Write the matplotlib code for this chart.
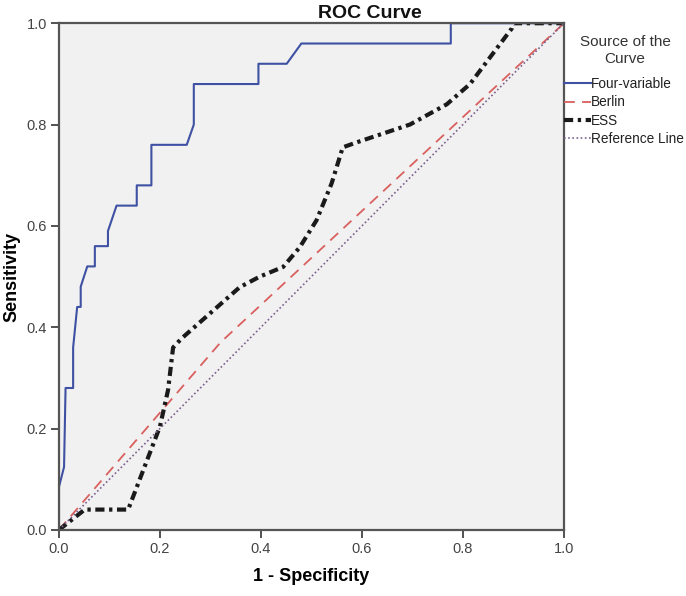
import numpy as np
import matplotlib
matplotlib.use("Agg")
import matplotlib.pyplot as plt

plt.rcParams['font.family'] = ['Liberation Sans', 'DejaVu Sans']

# --- Curve points (1 - specificity, sensitivity) ---

four_fpr = [0.0, 0.0, 0.01, 0.013, 0.028, 0.028, 0.036, 0.043, 0.043, 0.056,
            0.071, 0.071, 0.097, 0.097, 0.114, 0.154, 0.154, 0.183, 0.183,
            0.253, 0.267, 0.267, 0.395, 0.395, 0.451, 0.48, 0.776, 0.776, 1.0]
four_tpr = [0.0, 0.085, 0.124, 0.28, 0.28, 0.36, 0.44, 0.44, 0.48, 0.52,
            0.52, 0.56, 0.56, 0.59, 0.64, 0.64, 0.68, 0.68, 0.76,
            0.76, 0.80, 0.88, 0.88, 0.92, 0.92, 0.96, 0.96, 1.0, 1.0]

berlin_fpr = [0.0, 0.32, 1.0]
berlin_tpr = [0.0, 0.37, 1.0]

ess_fpr = [0.0, 0.051, 0.137, 0.2, 0.216, 0.226, 0.243, 0.358, 0.398,
           0.444, 0.477, 0.51, 0.54, 0.562, 0.59, 0.695, 0.768, 0.814,
           0.897, 0.9, 1.0]
ess_tpr = [0.0, 0.04, 0.04, 0.204, 0.276, 0.36, 0.378, 0.479, 0.5,
           0.519, 0.558, 0.611, 0.684, 0.755, 0.765, 0.80, 0.84, 0.88,
           0.99, 1.0, 1.0]

ref_fpr = [0.0, 1.0]
ref_tpr = [0.0, 1.0]

ticks = [0.0, 0.2, 0.4, 0.6, 0.8, 1.0]

# --- Figure -----------------------------------------------------------

fig = plt.figure(figsize=(6.86, 5.96), dpi=100)
ax = fig.add_axes([0.086, 0.111, 0.736, 0.85])
ax.set_facecolor("#f1f1f1")

ax.plot(four_fpr, four_tpr, color="#3f51a3", lw=1.5, label="Four-variable")
ax.plot(berlin_fpr, berlin_tpr, color="#d9605e", lw=1.3, dashes=(6, 4),
        label="Berlin")
ax.plot(ess_fpr, ess_tpr, color="#1a1a1a", lw=3.0, dashes=(2.2, 1.1, 0.8, 1.1),
        label="ESS")
ax.plot(ref_fpr, ref_tpr, color="#7a5f8e", lw=1.2, dashes=(1, 1.5),
        label="Reference Line")

ax.set_xlim(0, 1)
ax.set_ylim(0, 1)
ax.set_xticks(ticks)
ax.set_yticks(ticks)
ax.set_xticklabels(["%.1f" % t for t in ticks])
ax.set_yticklabels(["%.1f" % t for t in ticks])
ax.tick_params(direction="out", length=5.5, width=1.3, color="#444444",
               labelsize=10.5, labelcolor="#444444", pad=3)
for s in ax.spines.values():
  s.set_color("#555555")
  s.set_linewidth(1.6)

fig.text(0.539, 0.978, "ROC Curve", fontsize=14, fontweight="bold",
         ha="center", va="center", color="#111111")
ax.set_xlabel("1 - Specificity", fontsize=13, fontweight="bold", va="center")
ax.set_ylabel("Sensitivity", fontsize=13, fontweight="bold", va="center")
ax.xaxis.set_label_coords(0.5, -0.093)
ax.yaxis.set_label_coords(-0.093, 0.5)

fig.text(0.911, 0.915, "Source of the\nCurve", fontsize=11, ha="center",
         va="center", color="#333333", linespacing=1.3)

leg = ax.legend(loc="upper left", bbox_to_anchor=(1.0, 0.894),
                frameon=False, fontsize=9.8, handlelength=2.0,
                handletextpad=0.0, labelspacing=0.32, borderaxespad=0.0,
                borderpad=0.0)
for t in leg.get_texts():
  t.set_color("#222222")

fig.savefig("out.png", dpi=100)
